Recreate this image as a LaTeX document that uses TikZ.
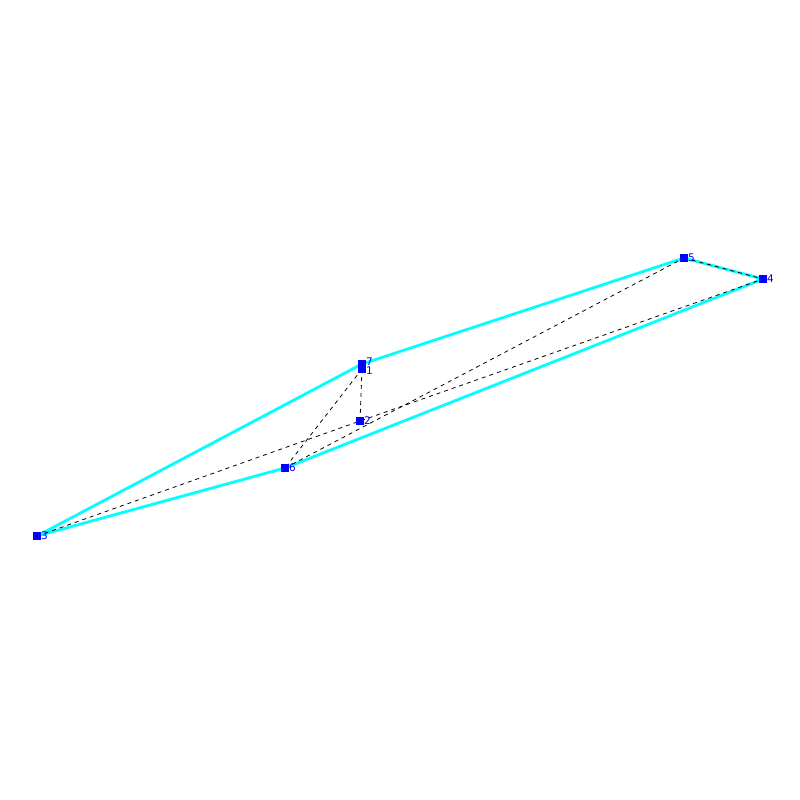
\documentclass[tikz,border=0pt]{standalone}
\usepackage{fontspec}
\setmainfont{DejaVu Sans}
\usetikzlibrary{calc}
\definecolor{cy}{RGB}{0,255,255}
\definecolor{bl}{RGB}{0,0,255}
\begin{document}
\begin{tikzpicture}[x=1pt,y=-1pt,
  edge/.style={cy,line width=2.8pt,line join=bevel},
  hid/.style={black,line width=0.8pt,dash pattern=on 4pt off 4pt},
  mk/.style={fill=bl,draw=none},
  lab/.style={text=bl,font=\fontsize{10.5}{10.5}\selectfont,anchor=west,inner sep=0pt}]
\useasboundingbox (0,0) rectangle (800,800);
\coordinate (n1) at (362,369);
\coordinate (n7) at (362,364);
\coordinate (n2) at (360,421);
\coordinate (n3) at (37,536);
\coordinate (n4) at (763,279);
\coordinate (n5) at (684,258);
\coordinate (n6) at (285,468);
% visible edges
\draw[edge] (n7) -- (n5) -- (n4) -- (n6) -- (n3) -- cycle;
% hidden edges
\draw[hid] (n1) -- (n2);
\draw[hid] (n1) -- (n6);
\draw[hid] (n3) -- (n2) -- (n4);
\draw[hid] (n6) -- (n5);
\draw[hid] (n5) -- (n4);
% markers
\foreach \p in {n1,n7,n2,n3,n4,n5,n6}{
  \fill[mk] ($(\p)+(-4,-4)$) rectangle ($(\p)+(4,4)$);
}
\node[lab] (l1) at ($(n1)+(4,2)$) {1};
\node[lab] (l7) at ($(n7)+(4,-2)$) {7};
\node[lab] (l2) at ($(n2)+(4,0)$) {2};
\node[lab] (l3) at ($(n3)+(4,0)$) {3};
\node[lab] (l4) at ($(n4)+(4,0)$) {4};
\node[lab] (l5) at ($(n5)+(4,0)$) {5};
\node[lab] (l6) at ($(n6)+(4,0)$) {6};
\end{tikzpicture}
\end{document}
